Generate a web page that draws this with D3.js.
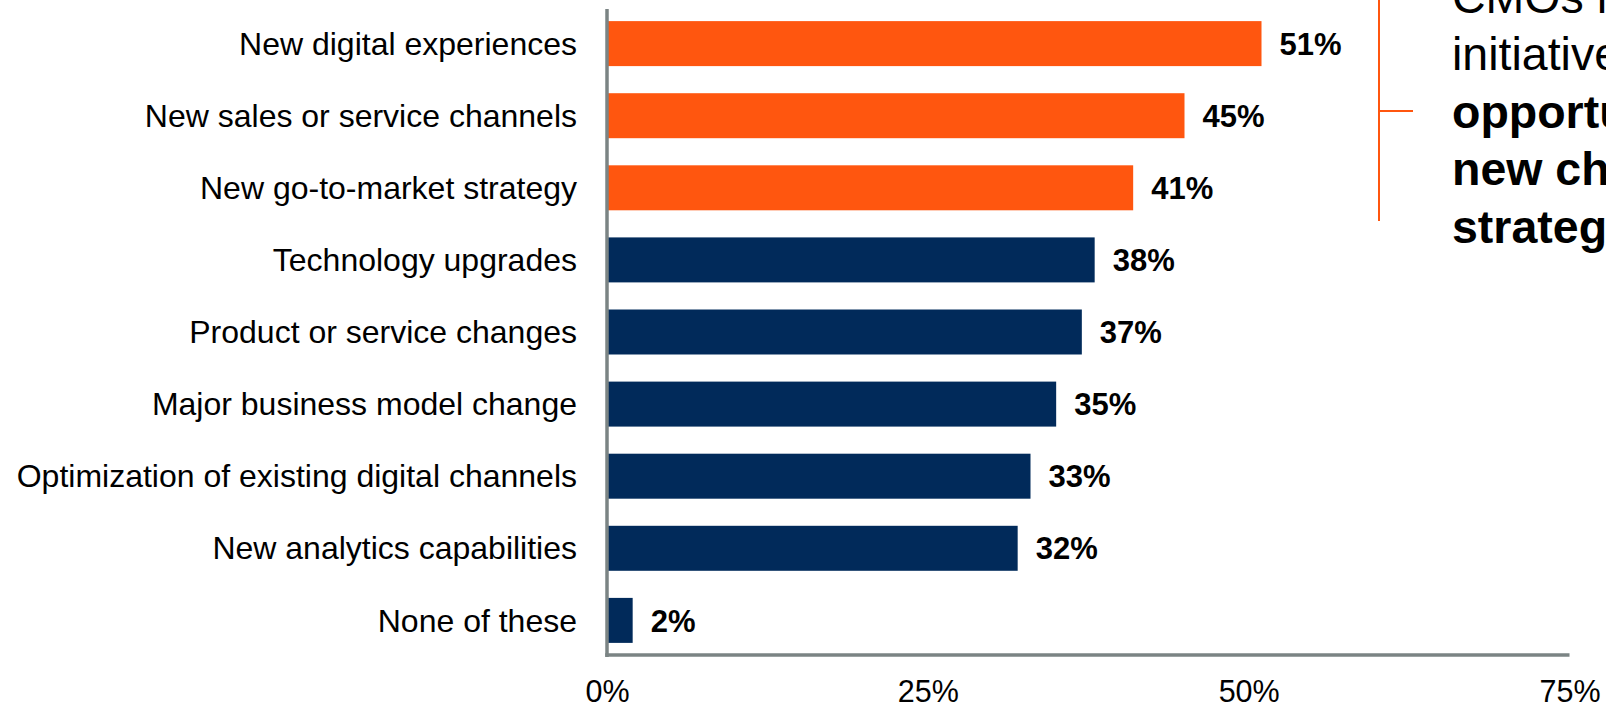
<!DOCTYPE html>
<html>
<head>
<meta charset="utf-8">
<script src="https://cdn.jsdelivr.net/npm/d3@7"></script>
<style>
  html, body { margin: 0; padding: 0; background: #ffffff; }
  svg { display: block; font-family: "Liberation Sans", Arial, Helvetica, sans-serif; }
</style>
</head>
<body>
<svg id="chart" width="1606" height="708"></svg>
<script>
// Survey answers, top to bottom
const categories = [
  "New digital experiences",
  "New sales or service channels",
  "New go-to-market strategy",
  "Technology upgrades",
  "Product or service changes",
  "Major business model change",
  "Optimization of existing digital channels",
  "New analytics capabilities",
  "None of these"
];
const values = [51, 45, 41, 38, 37, 35, 33, 32, 2];
// The first three answers are highlighted
const highlighted = [true, true, true, false, false, false, false, false, false];
const xTicks = [0, 25, 50, 75];

// Callout beside the chart: [text, bold]
const calloutLines = [
  ["CMOs report their top", false],
  ["initiatives focus on", false],
  ["opportunities around", true],
  ["new channels and", true],
  ["strategy", true]
];

const ORANGE = "#ff560f";
const NAVY = "#012a5a";
const AXIS = "#7b8484";

const svg = d3.select("#chart");

const x = d3.scaleLinear().domain([0, 75]).range([607, 1569.5]);
const y = d3.scaleBand()
  .domain(categories)
  .range([9, 655])
  .paddingInner(0.376)
  .paddingOuter(0.168);

const rows = categories.map((c, i) => ({ cat: c, val: values[i], hi: highlighted[i] }));

// Bars
svg.append("g")
  .selectAll("rect")
  .data(rows)
  .join("rect")
  .attr("x", x(0))
  .attr("y", d => y(d.cat))
  .attr("width", d => x(d.val) - x(0))
  .attr("height", y.bandwidth())
  .attr("fill", d => d.hi ? ORANGE : NAVY);

// Value labels
svg.append("g")
  .selectAll("text")
  .data(rows)
  .join("text")
  .attr("x", d => x(d.val) + 18)
  .attr("y", d => y(d.cat) + y.bandwidth() / 2)
  .attr("dy", "0.36em")
  .attr("font-size", 31)
  .attr("font-weight", "bold")
  .attr("fill", "#000")
  .text(d => d.val + "%");

// Category axis
const yAxis = svg.append("g")
  .attr("transform", `translate(${x(0)},0)`)
  .call(d3.axisLeft(y).tickSize(0).tickPadding(30));
yAxis.select(".domain").remove();
yAxis.selectAll("text")
  .attr("font-size", 32)
  .attr("font-family", "'Liberation Sans', Arial, sans-serif")
  .attr("fill", "#000")
  .attr("dy", "0.35em");

// Value axis ticks
const xAxis = svg.append("g")
  .attr("transform", "translate(0,655)")
  .call(d3.axisBottom(x).tickValues(xTicks).tickFormat(d => d + "%").tickSize(0).tickPadding(25.5));
xAxis.select(".domain").remove();
xAxis.selectAll("text")
  .attr("font-size", 30.5)
  .attr("font-family", "'Liberation Sans', Arial, sans-serif")
  .attr("fill", "#000");

// Axis lines
svg.append("line")
  .attr("x1", x(0)).attr("x2", x(0))
  .attr("y1", 9).attr("y2", 657)
  .attr("stroke", AXIS).attr("stroke-width", 3.5);
svg.append("line")
  .attr("x1", x(0) - 1.75).attr("x2", x(75))
  .attr("y1", 655).attr("y2", 655)
  .attr("stroke", AXIS).attr("stroke-width", 3.5);

// Callout bracket
svg.append("path")
  .attr("d", "M1379,0 V221 M1379,111 H1413")
  .attr("fill", "none")
  .attr("stroke", ORANGE)
  .attr("stroke-width", 2);

svg.append("g")
  .selectAll("text")
  .data(calloutLines)
  .join("text")
  .attr("x", 1452)
  .attr("y", (d, i) => 12.5 + i * 57.5)
  .attr("font-size", 46.5)
  .attr("font-weight", d => d[1] ? "bold" : "normal")
  .attr("fill", "#000")
  .text(d => d[0]);
</script>
</body>
</html>
